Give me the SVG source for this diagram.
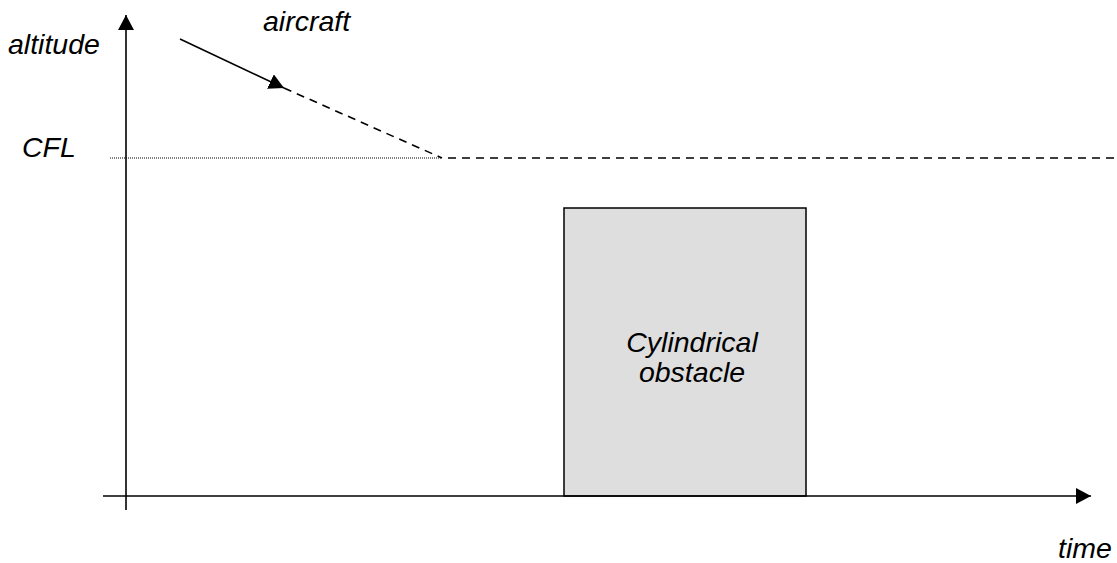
<svg xmlns="http://www.w3.org/2000/svg" width="1117" height="563" viewBox="0 0 1117 563">
<style>
.lbl{font-family:"Liberation Sans",Arial,sans-serif;font-style:italic;font-size:28.5px;fill:#000}
.ln{stroke:#000;fill:none}
</style>
<defs>
<marker id="ah" viewBox="0 0 15 16" refX="15" refY="8" markerWidth="15" markerHeight="16" markerUnits="userSpaceOnUse" orient="auto">
<path d="M0,0 L15,8 L0,16 Z" fill="#000"/>
</marker>
</defs>
<rect width="1117" height="563" fill="#fff"/>
<g id="obstacle">
<rect x="564" y="208" width="242" height="288" fill="#dedede" stroke="#000" stroke-width="1.5"/>
<text class="lbl" x="692" y="352" text-anchor="middle">Cylindrical</text>
<text class="lbl" x="692" y="382" text-anchor="middle">obstacle</text>
</g>
<g id="connectors">
<line class="ln" x1="126" y1="510" x2="126" y2="15" stroke-width="1.6" marker-end="url(#ah)"/>
<line class="ln" x1="103" y1="496" x2="1091" y2="496" stroke-width="1.6" marker-end="url(#ah)"/>
<line class="ln" x1="180" y1="39" x2="284" y2="88" stroke-width="1.6" marker-end="url(#ah)"/>
<line class="ln" x1="284" y1="88" x2="442" y2="158" stroke-width="1.6" stroke-dasharray="8,6"/>
<line class="ln" x1="442" y1="158" x2="1117" y2="158" stroke-width="1.6" stroke-dasharray="8,6" stroke-dashoffset="-6"/>
<line class="ln" x1="110" y1="158" x2="442" y2="158" stroke-width="1" stroke-dasharray="1,1"/>
</g>
<g id="labels">
<text class="lbl" x="8" y="54">altitude</text>
<text class="lbl" x="263" y="31">aircraft</text>
<text class="lbl" x="22" y="157">CFL</text>
<text class="lbl" x="1058" y="558">time</text>
</g>
</svg>
